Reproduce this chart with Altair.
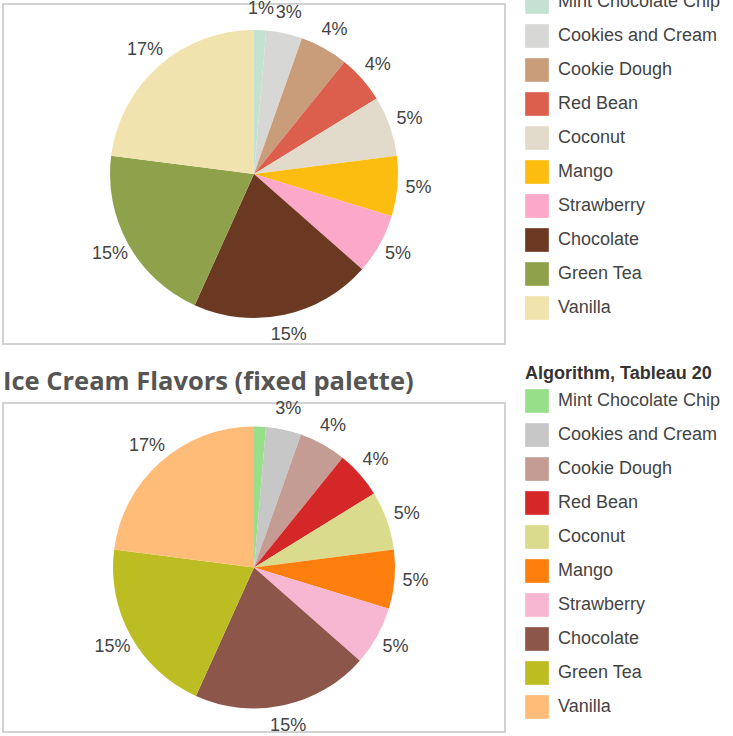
import altair as alt
import pandas as pd

flavors = ["Mint Chocolate Chip", "Cookies and Cream", "Cookie Dough", "Red Bean",
           "Coconut", "Mango", "Strawberry", "Chocolate", "Green Tea", "Vanilla"]
values = [1, 3, 4, 4, 5, 5, 5, 15, 15, 17]
labels = ["1%", "3%", "4%", "4%", "5%", "5%", "5%", "15%", "15%", "17%"]
labels_fixed = ["", "3%", "4%", "4%", "5%", "5%", "5%", "15%", "15%", "17%"]

custom_colors = ["#c4e2d2", "#d7d8d5", "#c99d7a", "#dc5e4c", "#e2dacb",
                 "#fdbd10", "#fca8c8", "#6b3922", "#8fa24b", "#f1e3ad"]
tableau_colors = ["#98df8a", "#c7c7c7", "#c49c94", "#d62728", "#dbdb8d",
                  "#ff7f0e", "#f7b6d2", "#8c564b", "#bcbd22", "#ffbb78"]

df = pd.DataFrame({"flavor": flavors, "value": values, "label": labels,
                   "label_fixed": labels_fixed, "idx": list(range(len(flavors)))})
frame_df = pd.DataFrame({"frame": [0]})

W = 502


def panel(colors, title, legend_title, label_col, height, radius):
    base = alt.Chart(df).encode(
        theta=alt.Theta("value:Q", stack=True),
        order=alt.Order("idx:Q"),
    )
    frame = alt.Chart(frame_df).mark_rect(
        fill="white", stroke="#d2d2d2", strokeWidth=2
    ).encode(x=alt.value(0), x2=alt.value(W), y=alt.value(0), y2=alt.value(height))
    arc = base.mark_arc(outerRadius=radius).encode(
        color=alt.Color(
            "flavor:N",
            sort=flavors,
            scale=alt.Scale(domain=flavors, range=colors),
            legend=alt.Legend(
                title=legend_title, orient="none", legendX=522, legendY=-38,
                titleFont="Liberation Sans", titleFontSize=18, titleFontWeight="bold",
                titleColor="#333333", titlePadding=6,
                labelFont="Liberation Sans", labelFontSize=18, labelColor="#444444",
                labelOffset=9, symbolType="square", symbolSize=560,
                symbolStrokeWidth=0, rowPadding=10, labelLimit=300, titleLimit=400,
            ),
        )
    )
    text = base.mark_text(
        radius=radius + 21, font="Liberation Sans", fontSize=18, color="#444444",
        align="center", baseline="middle",
    ).encode(text=alt.Text(f"{label_col}:N"))
    return alt.layer(frame, arc, text).properties(
        width=W, height=height,
        title=alt.TitleParams(title, anchor="start", frame="group", font="Open Sans",
                              fontSize=25.5, fontWeight="bold", color="#555555", offset=-30),
    )


top = panel(custom_colors, "Ice Cream Flavors (custom palette)", "Algorithm, Custom",
            "label", 340, 144)
bottom = panel(tableau_colors, "Ice Cream Flavors (fixed palette)", "Algorithm, Tableau 20",
               "label_fixed", 329, 141)

chart = alt.vconcat(top, bottom, spacing=20).resolve_scale(color="independent").properties(
    padding={"left": 2, "top": -34, "right": 0, "bottom": 0}
).configure_view(strokeWidth=0)

chart.save("out.html", embed_options={"renderer": "svg", "actions": False})
